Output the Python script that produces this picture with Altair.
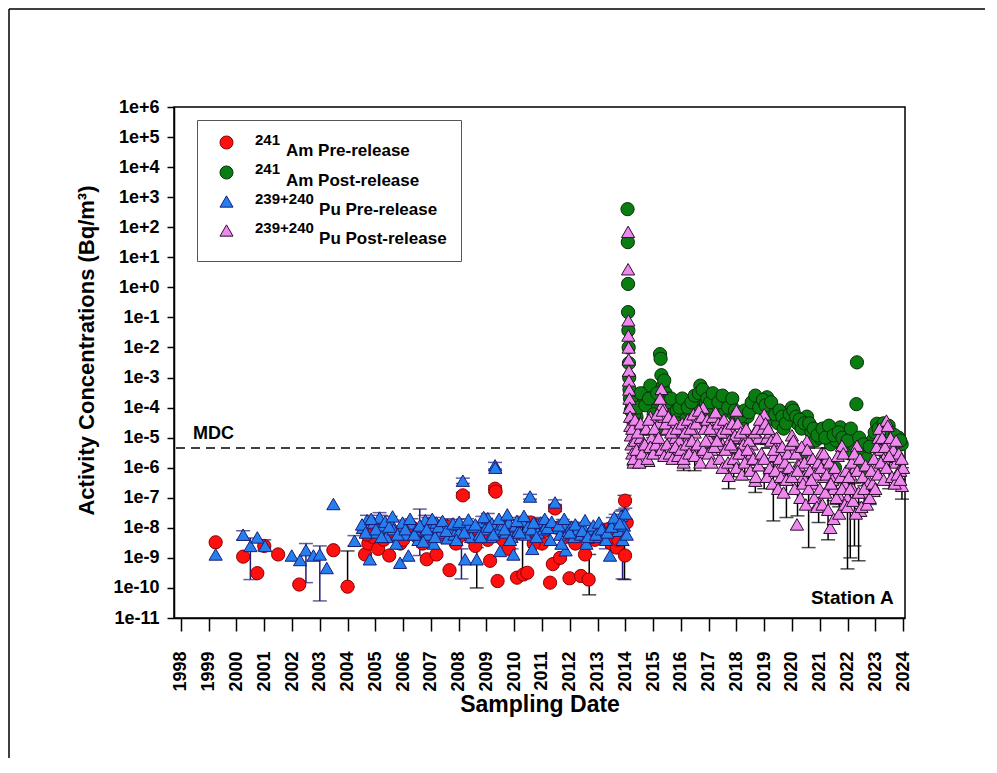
import altair as alt
import pandas as pd

# ---------------- data ----------------
SERIES = ["241Am Pre-release", "241Am Post-release",
          "239+240Pu Pre-release", "239+240Pu Post-release"]
PAD = "\u200b" + "\u00a0" * 7
LABELS = ["Am Pre-release", "Am Post-release", PAD + "Pu Pre-release", PAD + "Pu Post-release"]
SUPERS = ["241", "241", "239+240", "239+240"]
FILLS = ["#ff1010", "#0a7d12", "#2580ee", "#ee88ee"]
STROKES = ["#8a0000", "#0b2e0b", "#1c1c78", "#2a102a"]
SHAPES = ["circle", "circle", "triangle-up", "triangle-up"]

AM_PRE_DATE = [1999.25, 2000.24, 2000.75, 2001.0, 2001.5, 2002.26, 2003.49, 2004.0, 2004.63,
               2004.75, 2004.9, 2005.1, 2005.3, 2005.5, 2005.7, 2005.9, 2006.2, 2006.5, 2006.85,
               2007.2, 2007.45, 2007.67, 2007.9, 2008.15, 2008.4, 2008.6, 2008.9, 2009.13,
               2009.31, 2009.33, 2009.4, 2009.6, 2009.8, 2010.1, 2010.33, 2010.47, 2010.6,
               2010.8, 2011.0, 2011.29, 2011.39, 2011.47, 2011.65, 2011.8, 2011.99, 2012.2,
               2012.4, 2012.55, 2012.68, 2012.9, 2013.2, 2013.5, 2013.69, 2013.85, 2013.99,
               2013.99, 2014.05]
AM_PRE_VAL = [3.3e-9, 1.1e-9, 3.1e-10, 2.5e-9, 1.3e-9, 1.3e-10, 1.8e-9, 1.1e-10, 1.3e-9,
              3e-9, 5e-9, 2e-9, 4e-9, 1.2e-9, 6e-9, 3e-9, 8e-9, 5e-9, 9e-10,
              1.3e-9, 6e-9, 3.9e-10, 3e-9, 1.2e-7, 5e-9, 2.5e-9, 8e-9, 8e-10,
              2e-7, 1.6e-7, 1.7e-10, 4e-9, 2e-9, 2.2e-10, 2.8e-10, 3.2e-10, 1.5e-8,
              6e-9, 3e-9, 1.5e-10, 6.2e-10, 4.4e-8, 1e-9, 5e-9, 2.1e-10, 3e-9,
              2.5e-10, 1.3e-9, 1.9e-10, 4e-9, 6e-9, 3e-9, 2.2e-9, 1e-8, 1.2e-9,
              8e-8, 1.5e-8]
AM_PRE_DATE_B = [2004.7, 2005.0, 2005.6, 2006.0, 2006.35, 2006.7, 2007.1, 2007.55, 2008.0, 2008.7,
                 2009.05, 2009.7, 2010.0, 2010.7, 2011.1, 2011.55, 2012.1, 2012.8, 2013.4, 2013.75]
AM_PRE_VAL_B = [6e-9, 1.2e-8, 8e-9, 4e-9, 1e-8, 3e-9, 7e-9, 1.1e-8, 5e-9, 9e-9,
                4e-9, 1e-8, 6e-9, 3e-9, 8e-9, 1e-8, 6e-9, 5e-9, 9e-9, 4e-9]

PU_PRE_DATE = [1999.25, 2000.24, 2000.5, 2000.75, 2001.03, 2001.99, 2002.29, 2002.5, 2002.77,
               2003.0, 2003.25, 2003.49, 2004.25, 2004.55, 2004.7, 2004.8, 2004.95, 2005.05,
               2005.15, 2005.3, 2005.4, 2005.55, 2005.65, 2005.75, 2005.89, 2006.0, 2006.1,
               2006.19, 2006.3, 2006.45, 2006.55, 2006.65, 2006.8, 2006.9, 2007.0, 2007.1,
               2007.2, 2007.35, 2007.5, 2007.6, 2007.75, 2007.85, 2007.95, 2008.05, 2008.15,
               2008.23, 2008.3, 2008.45, 2008.55, 2008.65, 2008.75, 2008.85, 2008.95, 2009.05,
               2009.15, 2009.2, 2009.31, 2009.32, 2009.4, 2009.49, 2009.6, 2009.7, 2009.8,
               2009.9, 2009.97, 2010.05, 2010.15, 2010.3, 2010.4, 2010.5, 2010.57, 2010.65,
               2010.75, 2010.85, 2010.95, 2011.05, 2011.15, 2011.3, 2011.47, 2011.55, 2011.65,
               2011.75, 2011.85, 2011.95, 2012.05, 2012.15, 2012.3, 2012.4, 2012.5, 2012.6,
               2012.7, 2012.8, 2012.9, 2013.0, 2013.1, 2013.2, 2013.3, 2013.45, 2013.55,
               2013.65, 2013.75, 2013.85, 2013.9, 2013.95, 2014.0, 2014.05]
PU_PRE_VAL = [1.3e-9, 5.9e-9, 2.5e-9, 4.8e-9, 2.5e-9, 1.2e-9, 8.5e-10, 1.8e-9, 1.2e-9,
              1.3e-9, 4.6e-10, 6.2e-8, 3.7e-9, 1e-8, 1.8e-8, 9e-10, 1.5e-8, 7e-9,
              2.2e-8, 1.2e-8, 5e-9, 1.6e-8, 9e-9, 3e-9, 6.9e-10, 1.2e-8, 6e-9,
              1.2e-9, 1.4e-8, 8e-9, 4e-9, 1.1e-8, 1.8e-8, 6e-9, 1e-8, 3e-9,
              1.5e-8, 7e-9, 1.2e-8, 4.5e-9, 1e-8, 6e-9, 1.3e-8, 8e-9, 3.7e-7,
              9e-10, 1.3e-8, 5e-9, 1.1e-8, 9e-10, 6e-9, 1.6e-8, 9e-9, 2.1e-8,
              5e-9, 1.4e-8, 1.2e-6, 1e-6, 8e-9, 1.7e-9, 1.3e-8, 7e-9, 1.5e-8,
              5e-9, 1.3e-9, 1.2e-8, 8e-9, 1.6e-8, 6e-9, 1.1e-8, 1.1e-7, 2e-9,
              1.3e-8, 7e-9, 1.5e-8, 9e-9, 1.2e-8, 4e-9, 7e-8, 1e-8, 6e-9,
              1.3e-8, 1.8e-9, 8e-9, 1.1e-8, 5e-9, 9e-9, 6e-9, 1e-8, 3e-9,
              7e-9, 9e-9, 5e-9, 8e-9, 6e-9, 9e-9, 4e-9, 1.2e-9, 1.5e-8,
              1.9e-8, 8e-9, 2.5e-8, 4e-9, 1.2e-8, 3e-8, 6e-9]
PU_PRE_DATE_B = [2004.52, 2004.65, 2004.85, 2005.02, 2005.22, 2005.35, 2005.5, 2005.62, 2005.8, 2005.98,
                 2006.08, 2006.25, 2006.4, 2006.6, 2006.72, 2006.85, 2007.05, 2007.15, 2007.28, 2007.42,
                 2007.55, 2007.8, 2007.92, 2008.02, 2008.2, 2008.35, 2008.6, 2008.8, 2008.9, 2009.1,
                 2009.25, 2009.45, 2009.65, 2009.75, 2009.85, 2010.1, 2010.2, 2010.35, 2010.62, 2010.7,
                 2010.8, 2011.1, 2011.2, 2011.35, 2011.6, 2011.7, 2011.8, 2012.0, 2012.2, 2012.45,
                 2012.55, 2012.65, 2012.85, 2012.95, 2013.05, 2013.15, 2013.35, 2013.5, 2013.6, 2013.8]
PU_PRE_VAL_B = [1.3e-8, 7e-9, 2e-8, 9e-9, 5e-9, 1.6e-8, 1.1e-8, 2.4e-8, 6e-9, 1.5e-8,
                9e-9, 2e-8, 6e-9, 1.2e-8, 3.5e-9, 9e-9, 2e-8, 5e-9, 1.1e-8, 1.7e-8,
                8e-9, 1.4e-8, 4e-9, 1.6e-8, 7e-9, 1.9e-8, 1.3e-8, 5e-9, 2.3e-8, 1.1e-8,
                6e-9, 2e-8, 9e-9, 2.8e-8, 4e-9, 1.7e-8, 7e-9, 2.5e-8, 9e-9, 1.5e-8,
                5e-9, 2e-8, 1e-8, 1.6e-8, 1.2e-8, 3e-9, 2e-8, 7e-9, 1.3e-8, 8e-9,
                1.8e-8, 5e-9, 1.2e-8, 6e-9, 1.5e-8, 9e-9, 7e-9, 1.1e-8, 2.2e-8, 1.4e-8]

AM_POST_DATE = [2014.08, 2014.09, 2014.10, 2014.10, 2014.11, 2014.12, 2014.13, 2014.14, 2014.15,
                2014.17, 2014.2, 2014.25, 2014.3, 2014.4, 2014.5, 2014.6, 2014.7, 2014.8,
                2014.9, 2015.0, 2015.1, 2015.25, 2015.27, 2015.3, 2015.35, 2015.45, 2015.55,
                2015.7, 2015.8, 2015.9, 2016.0, 2016.1, 2016.2, 2016.3, 2016.45, 2016.6,
                2016.7, 2016.83, 2016.9, 2017.0, 2017.2, 2017.3, 2017.45, 2017.6, 2017.8,
                2017.9, 2018.0, 2018.2, 2018.4, 2018.6, 2018.74, 2018.9, 2019.1, 2019.2,
                2019.35, 2019.5, 2019.7, 2019.85, 2020.0, 2020.2, 2020.35, 2020.54, 2020.7,
                2020.85, 2021.0, 2021.26, 2021.4, 2021.6, 2021.74, 2021.9, 2022.05, 2022.22,
                2022.32, 2022.34, 2022.5, 2022.7, 2022.9, 2023.06, 2023.2, 2023.4, 2023.6,
                2023.84, 2023.95]
AM_POST_VAL = [4e2, 3.2e1, 1.3, 1.5e-1, 3.7e-2, 1e-2, 3e-3, 1e-3, 4e-4,
               2e-4, 8e-5, 1e-4, 3e-5, 5e-5, 2e-5, 1.5e-4, 3e-4, 2e-4,
               5.4e-4, 1e-4, 2e-4, 6e-3, 4.2e-3, 1.2e-3, 5e-4, 3e-4, 2e-4,
               1e-4, 1.5e-4, 6e-5, 1.3e-4, 7e-5, 5e-5, 8e-5, 1e-4, 2e-4,
               5.4e-4, 2.5e-4, 1.5e-4, 8e-5, 2e-4, 1.2e-4, 2e-4, 8e-5, 1.5e-4,
               6e-5, 4e-5, 3e-5, 5e-5, 1e-4, 1.9e-4, 1.4e-4, 2.2e-4, 7e-5,
               4e-5, 3e-5, 2e-5, 4e-5, 1e-4, 3e-5, 2e-5, 5e-5, 1.5e-5,
               8e-6, 1e-5, 1.5e-5, 6e-6, 8e-6, 2.2e-5, 5e-6, 3e-6, 6e-6,
               1.3e-4, 3.2e-3, 4e-6, 2e-6, 8e-6, 2.9e-5, 1.5e-5, 2e-5, 1e-5,
               1e-5, 6e-6]
AM_POST_DATE_B = [2014.22, 2014.32, 2014.45, 2014.55, 2014.72, 2014.85,
                  2015.02, 2015.15, 2015.4, 2015.5, 2015.65, 2015.85, 2015.95,
                  2016.05, 2016.25, 2016.38, 2016.5, 2016.65, 2016.78, 2016.95,
                  2017.05, 2017.15, 2017.35, 2017.5, 2017.7, 2017.85, 2017.95,
                  2018.05, 2018.15, 2018.3, 2018.45, 2018.55, 2018.68, 2018.82, 2018.95,
                  2019.05, 2019.25, 2019.4, 2019.55, 2019.65, 2019.78, 2019.92,
                  2020.05, 2020.15, 2020.28, 2020.45, 2020.62, 2020.78, 2020.92,
                  2021.1, 2021.2, 2021.33, 2021.5, 2021.68, 2021.82,
                  2022.0, 2022.12, 2022.42, 2022.58, 2022.8, 2022.98,
                  2023.12, 2023.3, 2023.48, 2023.55, 2023.7, 2023.9,
                  2014.4, 2015.2, 2016.15, 2017.25, 2018.35, 2019.45, 2020.5, 2021.55,
                  2022.5, 2023.35]
AM_POST_VAL_B = [1.5e-4, 6e-5, 1e-4, 3e-4, 1.2e-4, 2e-4,
                 6e-5, 3e-4, 8e-4, 1.5e-4, 2e-4, 8e-5, 1e-4,
                 2e-4, 1e-4, 1.5e-4, 2.5e-4, 3e-4, 4e-4, 2e-4,
                 1.5e-4, 3e-4, 1.5e-4, 2.5e-4, 1e-4, 2e-4, 8e-5,
                 6e-5, 5e-5, 8e-5, 7e-5, 1.5e-4, 2.5e-4, 1e-4, 1.8e-4,
                 1.2e-4, 1.5e-4, 6e-5, 8e-5, 5e-5, 3e-5, 6e-5,
                 8e-5, 5e-5, 4e-5, 3e-5, 3e-5, 2e-5, 1.2e-5,
                 2e-5, 1e-5, 2.5e-5, 1.2e-5, 1.5e-5, 1e-5,
                 8e-6, 2e-5, 1e-5, 6e-6, 5e-6, 1.5e-5,
                 2e-5, 3e-5, 2.5e-5, 1.5e-5, 1.2e-5, 8e-6,
                 8e-6, 2e-5, 1.5e-5, 1e-5, 6e-6, 3e-6, 2e-6, 1e-6,
                 8e-7, 3e-6]

PU_POST_DATE = [2014.10, 2014.10, 2014.11, 2014.11, 2014.12, 2014.12, 2014.13, 2014.13, 2014.14,
                2014.15, 2014.16, 2014.17, 2014.18, 2014.2, 2014.22, 2014.25, 2014.3, 2014.35,
                2014.45, 2014.55, 2014.65, 2014.75, 2014.83, 2014.9, 2015.0, 2015.1, 2015.2,
                2015.3, 2015.32, 2015.4, 2015.5, 2015.6, 2015.7, 2015.8, 2015.9, 2016.0,
                2016.1, 2016.2, 2016.3, 2016.4, 2016.5, 2016.6, 2016.7, 2016.8, 2016.9,
                2017.0, 2017.1, 2017.24, 2017.42, 2017.5, 2017.6, 2017.72, 2017.78, 2017.9,
                2018.0, 2018.1, 2018.2, 2018.3, 2018.45, 2018.55, 2018.68, 2018.8, 2018.9,
                2019.0, 2019.1, 2019.22, 2019.34, 2019.45, 2019.55, 2019.65, 2019.75, 2019.85,
                2020.0, 2020.1, 2020.18, 2020.29, 2020.4, 2020.54, 2020.65, 2020.75, 2020.85,
                2020.96, 2021.05, 2021.15, 2021.26, 2021.38, 2021.5, 2021.6, 2021.7, 2021.8,
                2021.9, 2022.0, 2022.1, 2022.2, 2022.28, 2022.34, 2022.46, 2022.6, 2022.75,
                2022.94, 2023.0, 2023.11, 2023.2, 2023.3, 2023.4, 2023.54, 2023.65, 2023.75,
                2023.85, 2023.9, 2023.96, 2024.0]
PU_POST_VAL = [7e1, 4.0, 8e-2, 2.5e-2, 1e-2, 4e-3, 1.7e-3, 8e-4, 4e-4,
               2e-4, 1e-4, 5e-5, 2.5e-5, 1.2e-5, 6e-6, 3e-6, 1.5e-6, 8e-6,
               3e-5, 1e-5, 4e-6, 2e-5, 1.7e-6, 5e-5, 1e-5, 4e-6, 3e-5,
               4.2e-4, 1.2e-4, 5e-5, 2e-5, 8e-6, 3e-5, 1e-5, 4e-6, 2e-5,
               1.5e-6, 8e-6, 3e-5, 5e-6, 1.5e-5, 5e-5, 3.2e-6, 1e-4, 3e-5,
               1e-5, 4e-6, 1.7e-5, 3.2e-5, 6e-6, 1.5e-5, 5.4e-7, 2e-5, 5e-6,
               8e-5, 1e-5, 3e-6, 1e-5, 2e-6, 6e-6, 3.7e-7, 1e-5, 3e-5,
               6e-5, 1e-5, 1.5e-5, 2.5e-6, 6e-6, 1e-6, 3e-6, 4e-7, 1e-6,
               1.2e-5, 4e-6, 1.3e-8, 1.7e-6, 5e-7, 8e-6, 2e-6, 3e-7, 1e-6,
               7e-8, 3e-6, 5e-7, 2e-6, 1e-8, 2e-7, 6e-7, 1.2e-7, 5.4e-6,
               3e-7, 1e-7, 6e-7, 2e-7, 1e-6, 5.4e-6, 3.7e-8, 1.5e-7, 4e-7,
               1.7e-7, 1e-6, 1e-5, 4e-6, 2e-6, 3.7e-5, 7e-6, 3e-6, 1.5e-6,
               8e-7, 8e-7, 2.5e-7, 1e-6]
PU_POST_DATE_B = [2014.25, 2014.35, 2014.45, 2014.55, 2014.65, 2014.75, 2014.85, 2014.95,
                  2015.05, 2015.15, 2015.25, 2015.35, 2015.45, 2015.55, 2015.65, 2015.75, 2015.85, 2015.95,
                  2016.05, 2016.15, 2016.25, 2016.35, 2016.45, 2016.55, 2016.65, 2016.75, 2016.85, 2016.95,
                  2017.05, 2017.15, 2017.25, 2017.35, 2017.45, 2017.55, 2017.65, 2017.75, 2017.85, 2017.95,
                  2018.05, 2018.15, 2018.25, 2018.35, 2018.45, 2018.55, 2018.65, 2018.75, 2018.85, 2018.95,
                  2019.05, 2019.15, 2019.25, 2019.35, 2019.45, 2019.55, 2019.65, 2019.75, 2019.85, 2019.95,
                  2020.05, 2020.15, 2020.25, 2020.35, 2020.45, 2020.55, 2020.65, 2020.75, 2020.85, 2020.95,
                  2021.05, 2021.15, 2021.25, 2021.35, 2021.45, 2021.55, 2021.65, 2021.75, 2021.85, 2021.95,
                  2022.05, 2022.15, 2022.25, 2022.35, 2022.45, 2022.55, 2022.65, 2022.75, 2022.85, 2022.95,
                  2023.05, 2023.15, 2023.25, 2023.35, 2023.45, 2023.55, 2023.65, 2023.75, 2023.85, 2023.95]
PU_POST_VAL_B = [2e-5, 4e-5, 1.5e-5, 3e-5, 6e-6, 2e-5, 4e-5, 1e-5,
                 2e-5, 6e-5, 2e-4, 8e-5, 3e-5, 5e-5, 1.5e-5, 4e-5, 2e-5, 8e-6,
                 3e-5, 1.5e-5, 4e-5, 2e-5, 6e-5, 3e-5, 8e-5, 5e-5, 2e-5, 4e-5,
                 2e-5, 5e-5, 7e-5, 3e-5, 1.5e-5, 4e-5, 2e-5, 8e-6, 3e-5, 1.2e-5,
                 3e-5, 1.5e-5, 6e-6, 2e-5, 8e-6, 3e-6, 1.5e-5, 2e-5, 4e-5, 2e-5,
                 3e-5, 2e-5, 8e-6, 4e-6, 1e-5, 2e-6, 5e-6, 1.5e-6, 3e-6, 6e-6,
                 8e-6, 3e-6, 1.2e-6, 5e-6, 1.5e-6, 4e-6, 8e-7, 2e-6, 6e-7, 1.5e-6,
                 1e-6, 3e-6, 6e-7, 1.5e-6, 4e-7, 1e-6, 2.5e-6, 5e-7, 3e-6, 8e-7,
                 5e-7, 1.5e-6, 3e-6, 8e-7, 2e-6, 5e-7, 1.2e-6, 3e-7, 8e-7, 2e-6,
                 5e-6, 2e-5, 1e-5, 5e-6, 2.5e-5, 1e-5, 4e-6, 8e-6, 3e-6, 2e-6]
PU_POST_DATE_C = [2014.3, 2014.4, 2014.5, 2014.6, 2014.7, 2014.8, 2014.9,
                  2015.0, 2015.1, 2015.2, 2015.3, 2015.4, 2015.5, 2015.6, 2015.7, 2015.8, 2015.9,
                  2016.0, 2016.1, 2016.2, 2016.3, 2016.4, 2016.5, 2016.6, 2016.7, 2016.8, 2016.9,
                  2017.0, 2017.1, 2017.2, 2017.3, 2017.4, 2017.5, 2017.6, 2017.7, 2017.8, 2017.9,
                  2018.0, 2018.1, 2018.2, 2018.3, 2018.4, 2018.5, 2018.6, 2018.7, 2018.8, 2018.9,
                  2019.0, 2019.1, 2019.2, 2019.3, 2019.4, 2019.5, 2019.6, 2019.7, 2019.8, 2019.9,
                  2020.0, 2020.1, 2020.2, 2020.3, 2020.4, 2020.5, 2020.6, 2020.7, 2020.8, 2020.9,
                  2021.0, 2021.1, 2021.2, 2021.3, 2021.4, 2021.5, 2021.6, 2021.7, 2021.8, 2021.9,
                  2022.0, 2022.1, 2022.2, 2022.3, 2022.4, 2022.5, 2022.6, 2022.7, 2022.8, 2022.9,
                  2023.0, 2023.1, 2023.2, 2023.3, 2023.4, 2023.5, 2023.6, 2023.7, 2023.8, 2023.9]
PU_POST_VAL_C = [2e-6, 4e-6, 1.5e-6, 3e-6, 6e-6, 2e-6, 5e-6,
                 3e-6, 6e-6, 1e-5, 4e-6, 2.5e-6, 6e-6, 3e-6, 2e-6, 5e-6, 2.5e-6,
                 4e-6, 2e-6, 6e-6, 3e-6, 8e-6, 2.5e-6, 6e-6, 1.5e-6, 4e-6, 8e-6,
                 3e-6, 1.5e-6, 5e-6, 8e-6, 2e-6, 1e-6, 4e-6, 1.5e-6, 6e-6, 2e-6,
                 1e-6, 3e-6, 6e-7, 1.5e-6, 4e-6, 8e-7, 2e-6, 5e-7, 1.2e-6, 3e-6,
                 2e-6, 5e-7, 1e-6, 3e-7, 8e-7, 2e-7, 5e-7, 1.5e-7, 4e-7, 1e-6,
                 5e-7, 2e-7, 8e-7, 1e-7, 3e-7, 6e-8, 2e-7, 4e-7, 1e-7, 5e-8,
                 2e-7, 6e-8, 1.5e-7, 4e-8, 3e-7, 2e-8, 1e-7, 3e-8, 2e-7, 6e-8,
                 5e-8, 2e-7, 8e-8, 3e-8, 1.5e-7, 5e-8, 2e-7, 6e-8, 1e-7, 3e-7,
                 2e-7, 6e-7, 1.5e-6, 4e-7, 1e-6, 2.5e-6, 5e-7, 3e-7, 6e-7, 4e-7]

# error bars (date, lower, upper); navy = 239+240Pu pre-release, black = others
ERR_NAVY_DATE = [2000.5, 2002.5, 2003.0, 2006.6, 2008.1, 2008.15, 2009.31, 2010.57, 2011.47,
                 2005.2, 2006.9, 2007.6, 2009.9, 2011.0, 2012.1, 2013.3, 2013.9,
                 2004.7, 2005.15, 2005.55, 2006.0, 2006.3, 2006.8, 2007.2, 2007.5, 2007.95,
                 2008.3, 2008.85, 2009.05, 2009.6, 2009.8, 2010.3, 2010.75, 2010.95, 2011.15,
                 2011.75, 2012.05, 2012.5, 2012.8, 2013.2, 2013.55, 2013.65, 2013.85, 2014.0,
                 2004.25, 2001.0, 2000.24]
ERR_NAVY_LO = [1.9e-10, 1.5e-10, 3.7e-11, 1.2e-9, 2e-10, 3e-7, 9e-7, 9e-8, 6e-8,
               5e-9, 4e-9, 3e-9, 2e-9, 5e-9, 3e-9, 2e-9, 2e-10,
               1.2e-8, 1.5e-8, 1.1e-8, 8e-9, 9e-9, 1.2e-8, 1e-8, 8e-9, 9e-9,
               9e-9, 1.1e-8, 1.4e-8, 9e-9, 1e-8, 1.1e-8, 9e-9, 1e-8, 8e-9,
               9e-9, 7e-9, 7e-9, 6e-9, 6e-9, 1e-8, 1.3e-8, 1.7e-8, 2e-8,
               2.5e-9, 1.8e-9, 4e-9]
ERR_NAVY_HI = [4.6e-9, 3e-9, 2.5e-9, 4.2e-8, 2e-9, 4.5e-7, 1.5e-6, 1.3e-7, 8.5e-8,
               2.6e-8, 2.2e-8, 2e-8, 1.8e-8, 2e-8, 1.5e-8, 1.4e-8, 4e-8,
               2.6e-8, 3.2e-8, 2.4e-8, 1.8e-8, 2e-8, 2.6e-8, 2.2e-8, 1.8e-8, 1.9e-8,
               2e-8, 2.4e-8, 3e-8, 1.9e-8, 2.2e-8, 2.4e-8, 1.9e-8, 2.2e-8, 1.7e-8,
               1.9e-8, 1.6e-8, 1.5e-8, 1.3e-8, 1.3e-8, 2.2e-8, 2.8e-8, 3.6e-8, 4.5e-8,
               5.5e-9, 4e-9, 8e-9]
ERR_BLACK_DATE = [2004.0, 2008.65, 2010.3, 2012.7, 2013.97, 2008.15, 2009.31, 2011.47,
                  2014.3, 2014.5, 2016.1, 2017.72, 2018.68, 2019.33, 2019.8, 2020.2, 2020.6,
                  2020.96, 2021.3, 2022.0, 2022.1, 2022.25, 2022.4, 2023.96, 2015.0, 2016.5,
                  2017.9, 2018.3, 2019.0, 2021.6, 2022.8, 2023.5,
                  2014.4, 2014.75, 2015.2, 2015.5, 2015.8, 2016.3, 2016.6, 2016.9, 2017.24,
                  2017.6, 2018.1, 2018.45, 2018.8, 2019.1, 2019.55, 2019.85, 2020.1, 2020.4,
                  2020.85, 2021.05, 2021.5, 2021.7, 2021.9, 2022.6, 2022.75, 2023.2, 2023.3,
                  2023.65, 2023.85, 2015.05]
ERR_BLACK_LO = [1.1e-10, 1e-10, 3.2e-10, 5.9e-11, 1.9e-10, 1e-7, 1.5e-7, 3.5e-8,
                1.2e-6, 1e-6, 8e-7, 2e-7, 1.5e-7, 1.7e-8, 2.2e-8, 2.5e-8, 2.2e-9,
                1.5e-8, 4e-9, 4.3e-10, 1e-9, 2.5e-9, 8e-10, 9e-8, 2e-6, 8e-7,
                5e-7, 4e-7, 2e-7, 6e-8, 6e-8, 2e-7,
                1.5e-5, 1.2e-5, 2e-5, 1.2e-5, 6e-6, 2e-5, 3e-5, 2e-5, 1e-5,
                1e-5, 6e-6, 1.2e-6, 6e-6, 6e-6, 5e-7, 5e-7, 2e-6, 2.5e-7,
                5e-7, 1.5e-6, 8e-8, 5e-8, 1.5e-7, 7e-8, 2e-7, 2e-6, 1e-6,
                1.5e-6, 4e-7, 5e-6]
ERR_BLACK_HI = [1.7e-9, 2.2e-9, 1.7e-8, 1.3e-9, 1.2e-7, 1.5e-7, 2.5e-7, 5.5e-8,
                3e-6, 5e-6, 3e-6, 1.5e-6, 1e-6, 1.5e-6, 1e-6, 4e-7, 5e-7,
                1e-7, 2e-7, 3e-7, 2e-7, 3e-7, 1.5e-7, 1e-6, 1e-5, 6e-6,
                3e-6, 2e-6, 1e-6, 4e-7, 3e-7, 1.5e-6,
                4.5e-5, 3e-5, 4.5e-5, 3e-5, 1.5e-5, 4.5e-5, 7e-5, 4.5e-5, 2.5e-5,
                2.2e-5, 1.5e-5, 3e-6, 1.5e-5, 1.5e-5, 1.5e-6, 1.5e-6, 6e-6, 8e-7,
                1.5e-6, 4.5e-6, 3e-7, 2e-7, 4.5e-7, 2.5e-7, 6e-7, 6e-6, 3e-6,
                4.5e-6, 1.3e-6, 1.5e-5]

Y_TICKS = [1e-11, 1e-10, 1e-9, 1e-8, 1e-7, 1e-6, 1e-5, 1e-4, 1e-3, 1e-2, 1e-1,
           1e0, 1e1, 1e2, 1e3, 1e4, 1e5, 1e6]
X_TICKS = list(range(1998, 2025))
MDC = 4.5e-6

FONT = "Liberation Sans"

# ---------------- tables ----------------
rows = []
for name, dates, vals in [(SERIES[0], AM_PRE_DATE + AM_PRE_DATE_B, AM_PRE_VAL + AM_PRE_VAL_B),
                          (SERIES[2], PU_PRE_DATE + PU_PRE_DATE_B, PU_PRE_VAL + PU_PRE_VAL_B),
                          (SERIES[1], AM_POST_DATE + AM_POST_DATE_B, AM_POST_VAL + AM_POST_VAL_B),
                          (SERIES[3], PU_POST_DATE + PU_POST_DATE_B + PU_POST_DATE_C,
                           PU_POST_VAL + PU_POST_VAL_B + PU_POST_VAL_C)]:
    assert len(dates) == len(vals), name
    for d, v in zip(dates, vals):
        rows.append({"date": d, "value": v, "series": name})
pts = pd.DataFrame(rows)
pts["idx"] = range(len(pts))

assert len(ERR_NAVY_DATE) == len(ERR_NAVY_LO) == len(ERR_NAVY_HI)
assert len(ERR_BLACK_DATE) == len(ERR_BLACK_LO) == len(ERR_BLACK_HI)
err = pd.DataFrame(
    [{"date": d, "lo": l, "hi": h, "ec": "#1c1c78"}
     for d, l, h in zip(ERR_NAVY_DATE, ERR_NAVY_LO, ERR_NAVY_HI)] +
    [{"date": d, "lo": l, "hi": h, "ec": "#000000"}
     for d, l, h in zip(ERR_BLACK_DATE, ERR_BLACK_LO, ERR_BLACK_HI)])

xscale = alt.Scale(domain=[1997.75, 2024.07], nice=False, zero=False)
yscale = alt.Scale(type="log", domain=[1e-11, 1e6], nice=False)

xaxis = alt.Axis(values=X_TICKS, format="d", labelAngle=270, labelAlign="right",
                 labelBaseline="middle", labelFont=FONT, labelFontSize=18,
                 labelFontWeight="bold", labelColor="black", labelPadding=20,
                 tickSize=13, tickColor="black", tickWidth=1.5, domainColor="black",
                 domainWidth=1.5, grid=False, title="Sampling Date", titleFont=FONT,
                 titleFontSize=23, titleFontWeight="bold", titleColor="black",
                 titlePadding=2, labelFlush=False, labelOverlap=False)
yaxis = alt.Axis(values=Y_TICKS,
                 labelExpr="'1e' + (round(log(datum.value)/LN10) >= 0 ? '+' : '') + round(log(datum.value)/LN10)",
                 labelFont=FONT, labelFontSize=18, labelFontWeight="bold", labelColor="black",
                 labelPadding=8, tickSize=7, tickColor="black", tickWidth=1.5,
                 domainColor="black", domainWidth=1.5, grid=False,
                 title="Activity Concentrations (Bq/m³)", titleFont=FONT, titleFontSize=22,
                 titleFontWeight="bold", titleColor="black", titleAngle=270,
                 titleX=-76, titleY=243, titleAlign="center", titleBaseline="bottom",
                 labelOverlap=False, labelFlush=False)

lab_expr = ("datum.label == '%s' ? '%s' : datum.label == '%s' ? '%s' : "
            "datum.label == '%s' ? '%s' : '%s'") % (SERIES[0], LABELS[0], SERIES[1], LABELS[1],
                                                    SERIES[2], LABELS[2], LABELS[3])
legend = alt.Legend(title=None, orient="none", legendX=23, legendY=13,
                    labelFont=FONT, labelFontSize=17, labelFontWeight="bold",
                    labelColor="black", labelBaseline="top", labelExpr=lab_expr,
                    symbolSize=170, symbolStrokeWidth=1,
                    padding=14, rowPadding=4, symbolOffset=7, labelOffset=51,
                    strokeColor="#555555", labelLimit=400)


def X(field):
    return alt.X(field, type="quantitative", scale=xscale, axis=xaxis)


def Y(field):
    return alt.Y(field, type="quantitative", scale=yscale, axis=yaxis)


mdc_line = alt.Chart(pd.DataFrame({"v": [MDC]})).mark_rule(
    color="black", strokeWidth=1.6, strokeDash=[9, 6]).encode(y=Y("v"))

err_rules = alt.Chart(err).mark_rule(strokeWidth=1.5).encode(
    x=X("date"), y=Y("lo"), y2="hi:Q", color=alt.Color("ec:N", scale=None))
err_lo = alt.Chart(err).mark_tick(orient="horizontal", size=14, thickness=1.5).encode(
    x=X("date"), y=Y("lo"), color=alt.Color("ec:N", scale=None))
err_hi = alt.Chart(err).mark_tick(orient="horizontal", size=14, thickness=1.5).encode(
    x=X("date"), y=Y("hi"), color=alt.Color("ec:N", scale=None))

points = alt.Chart(pts).mark_point(filled=True, opacity=1, strokeWidth=1, size=175).encode(
    x=X("date"),
    y=Y("value"),
    fill=alt.Fill("series:N", scale=alt.Scale(domain=SERIES, range=FILLS), legend=legend),
    stroke=alt.Stroke("series:N", scale=alt.Scale(domain=SERIES, range=STROKES), legend=legend),
    shape=alt.Shape("series:N", scale=alt.Scale(domain=SERIES, range=SHAPES), legend=legend),
    order=alt.Order("idx:Q"))

mdc_text = alt.Chart(pd.DataFrame({"date": [1998.43], "value": [1.35e-5], "txt": ["MDC"]})).mark_text(
    align="left", baseline="middle", font=FONT, fontSize=18, fontWeight="bold",
    color="black").encode(x=X("date"), y=Y("value"), text="txt:N")
station = alt.Chart(pd.DataFrame({"date": [2023.66], "value": [4.6e-11], "txt": ["Station A"]})).mark_text(
    align="right", baseline="middle", font=FONT, fontSize=19, fontWeight="bold",
    color="black").encode(x=X("date"), y=Y("value"), text="txt:N")

# superscript mass numbers in front of the legend labels
sup_layers = []
for i, s in enumerate(SUPERS):
    sup_layers.append(
        alt.Chart(pd.DataFrame({"a": [0]})).mark_text(
            align="left", baseline="alphabetic", font=FONT, fontSize=15,
            fontWeight="bold", color="black").encode(
            x=alt.value(81), y=alt.value(37.5 + 29.5 * i), text=alt.value(s)))

# outer frame (top and left edges visible in the reference)
frame_top = alt.Chart(pd.DataFrame({"a": [0]})).mark_rule(color="black", strokeWidth=1.5).encode(
    x=alt.value(-165), x2=alt.value(900), y=alt.value(-98))
frame_left = alt.Chart(pd.DataFrame({"a": [0]})).mark_rule(color="black", strokeWidth=1.5).encode(
    x=alt.value(-165), y=alt.value(-98), y2=alt.value(700))

chart = alt.layer(mdc_line, err_rules, err_lo, err_hi, points, mdc_text, station,
                  frame_top, frame_left, *sup_layers).properties(
    width=731, height=511,
    autosize=alt.AutoSizeParams(type="none"),
    padding={"left": 166, "top": 99, "right": 80, "bottom": 140},
    background="white",
).configure_view(stroke="black", strokeWidth=1.5)

chart.save("out.html", embed_options={"renderer": "svg", "actions": False})
